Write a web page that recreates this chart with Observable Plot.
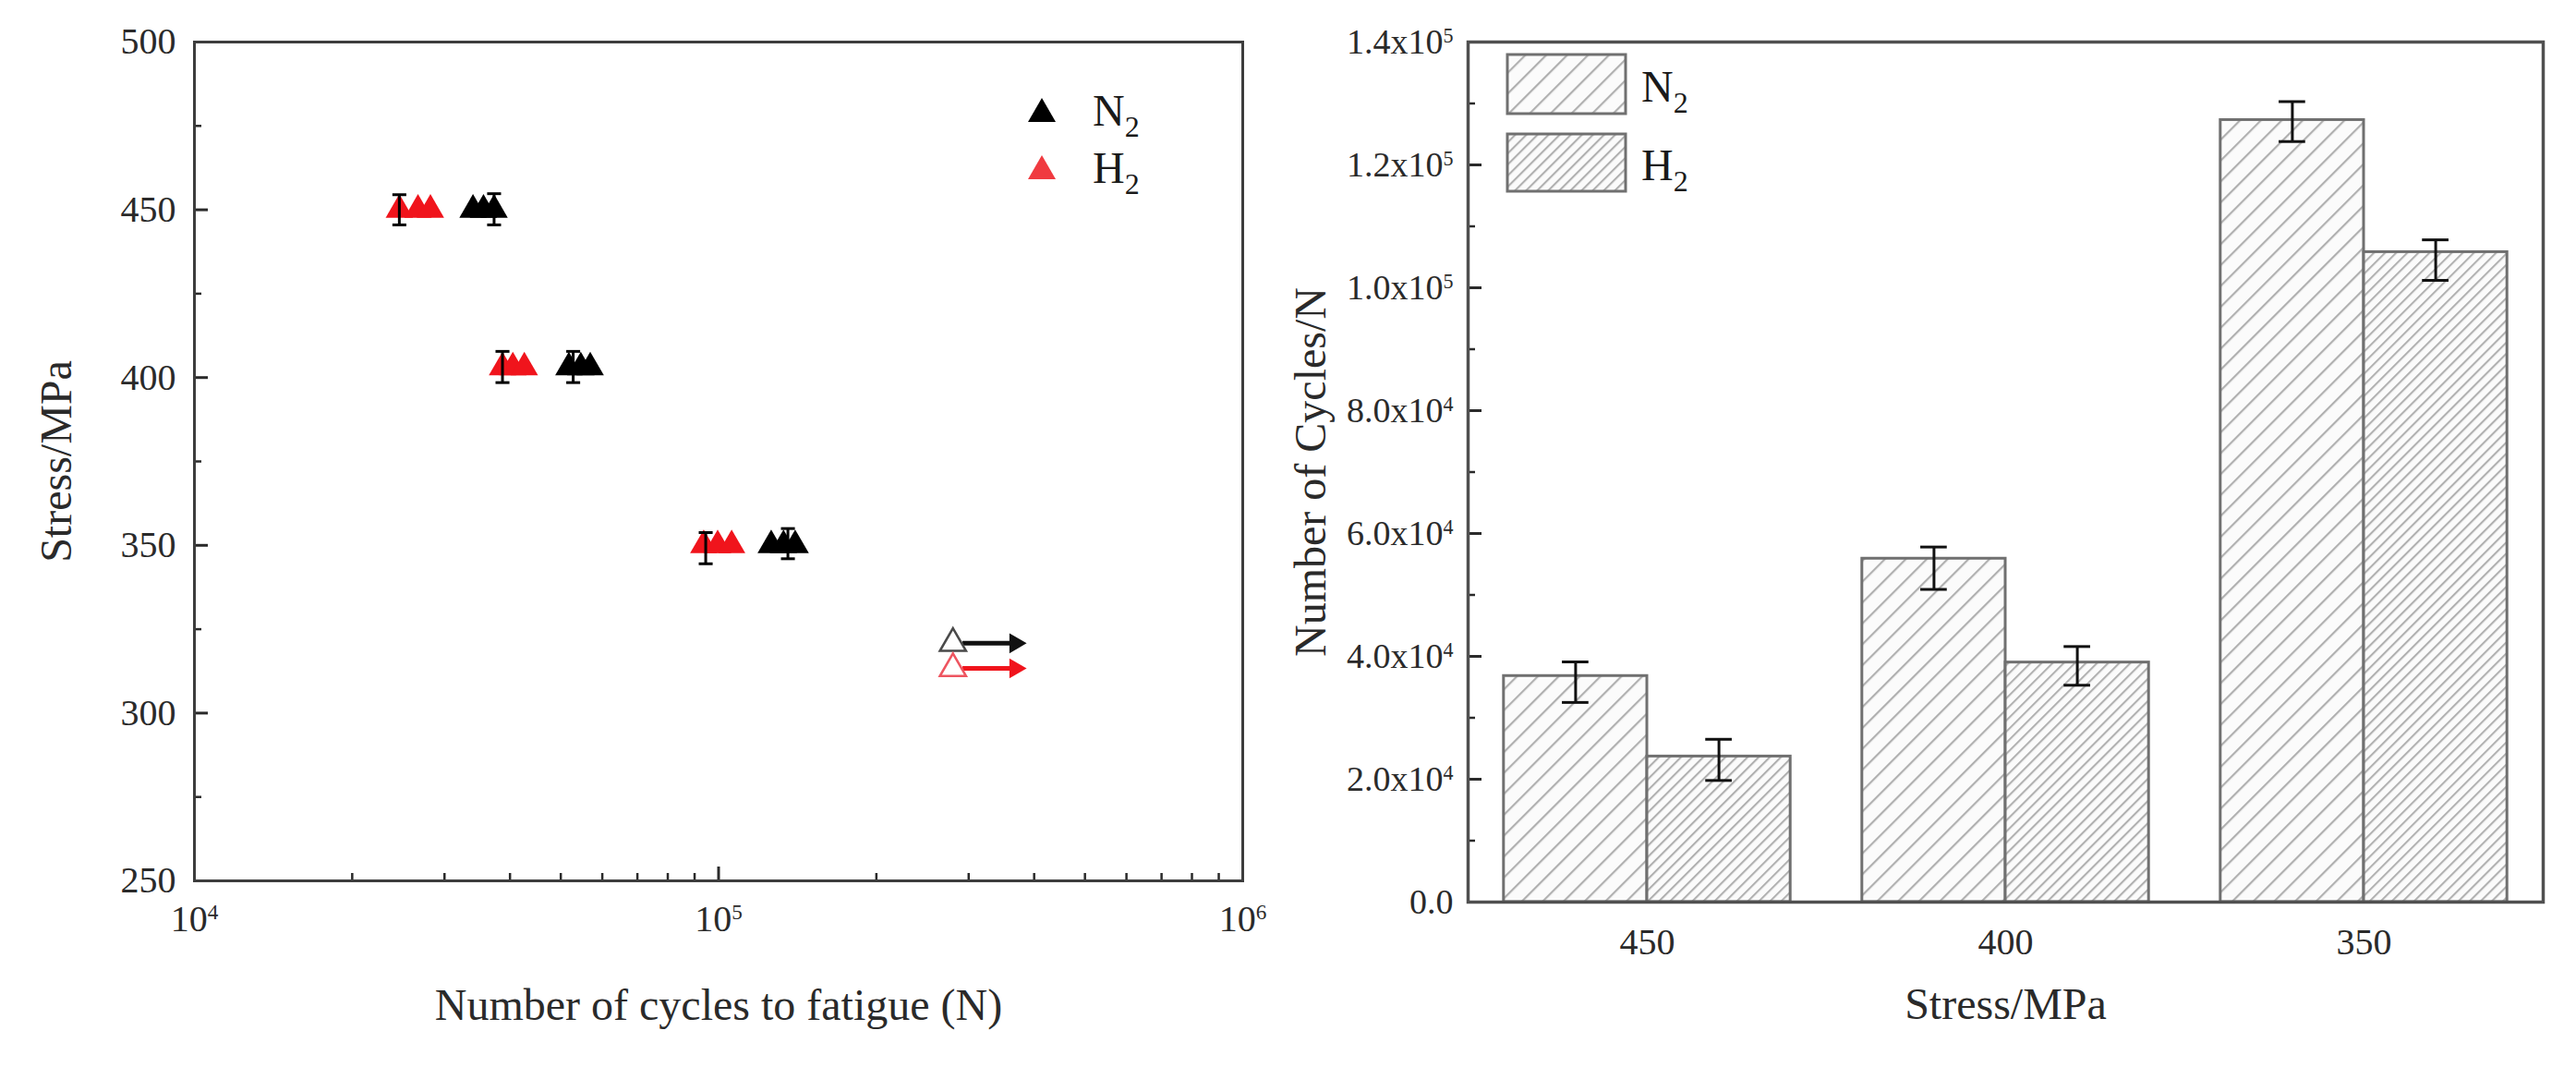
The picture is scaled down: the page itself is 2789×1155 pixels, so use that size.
<!DOCTYPE html>
<html><head><meta charset="utf-8">
<script src="https://cdn.jsdelivr.net/npm/d3@7"></script>
<script src="https://cdn.jsdelivr.net/npm/@observablehq/plot@0.6"></script>
<style>
body{margin:0;background:#fff;}
#wrap{position:relative;width:2789px;height:1155px;font-family:"Liberation Serif","Times New Roman",serif;overflow:hidden;}
.panel{position:absolute;top:0;}
.leg{position:absolute;font-size:48px;color:#1a1a1a;line-height:1;white-space:nowrap;}
.leg sub{font-size:32px;vertical-align:-12px;}
.sw{position:absolute;}
</style></head><body>
<svg width="0" height="0" style="position:absolute">
<defs>
<pattern id="hatchN2" patternUnits="userSpaceOnUse" width="16" height="16" patternTransform="rotate(45)">
<rect width="16" height="16" fill="#fbfbfb"/><line x1="1" y1="0" x2="1" y2="16" stroke="#b0b0b0" stroke-width="2.4"/></pattern>
<pattern id="hatchH2" patternUnits="userSpaceOnUse" width="8.5" height="8.5" patternTransform="rotate(45)">
<rect width="8.5" height="8.5" fill="#fbfbfb"/><line x1="1" y1="0" x2="1" y2="8.5" stroke="#b0b0b0" stroke-width="2.2"/></pattern>
</defs></svg>
<div id="wrap"></div>
<script>
// ---------- Left panel: S-N data ----------
const snStressLevels = [450, 403, 350];
const n2Cycles = [34000, 35600, 37300, 51800, 54600, 56900, 126000, 133000, 140000];
const n2Stress = [450, 450, 450, 403, 403, 403, 350, 350, 350];
const h2Cycles = [24600, 26700, 28200, 38700, 40500, 42600, 93700, 99600, 105900];
const h2Stress = [450, 450, 450, 403, 403, 403, 350, 350, 350];
const n2ErrCycles = [37300, 52800, 135600];
const n2ErrLow = [445.5, 398.5, 346];
const n2ErrHigh = [454.8, 407.8, 355];
const h2ErrCycles = [24600, 38700, 94500];
const h2ErrLow = [445.5, 398.5, 344.5];
const h2ErrHigh = [454.5, 407.8, 353.8];
const runoutGas = ["N2", "H2"];
const runoutStress = [320.8, 313.3];
const runoutStart = [280000, 280000];
const runoutArrowFrom = [292000, 292000];
const runoutArrowTo = [368000, 368000];
const xMajorTicks = [1e4, 1e5, 1e6];
const xMinorTicks = [2e4,3e4,4e4,5e4,6e4,7e4,8e4,9e4,2e5,3e5,4e5,5e5,6e5,7e5,8e5,9e5];
const yMajorTicksL = [250, 300, 350, 400, 450, 500];
const yMinorTicksL = [275, 325, 375, 425, 475];

// ---------- Right panel: bar data ----------
const stressCategories = ["450", "400", "350"];
const n2Mean = [36800, 55900, 127300];
const n2Low = [32500, 50900, 123800];
const n2High = [39100, 57800, 130300];
const h2Mean = [23700, 39000, 105800];
const h2Low = [19800, 35300, 101200];
const h2High = [26500, 41600, 107800];
const yMajorTicksR = [0, 20000, 40000, 60000, 80000, 100000, 120000, 140000];
const yMinorTicksR = [10000, 30000, 50000, 70000, 90000, 110000, 130000];

const RED = "#f0141c";
const FONT = "Liberation Serif, Times New Roman, serif";

function supers(svg) {
  d3.select(svg).selectAll("text").each(function() {
    if (this.querySelector("tspan")) return;
    const s = this.textContent;
    const m = s.match(/^(.*)\^(\d+)$/);
    if (m) {
      this.textContent = m[1];
      d3.select(this).append("tspan").attr("baseline-shift", "super").attr("font-size", "58%").text(m[2]);
    }
  });
}

const capSymbol = {draw(ctx, size) { const w = Math.sqrt(size) / 2; ctx.moveTo(-w, 0); ctx.lineTo(w, 0); }};

const n2Pts = n2Cycles.map((c, i) => ({c, s: n2Stress[i]}));
const h2Pts = h2Cycles.map((c, i) => ({c, s: h2Stress[i]}));
const n2Err = n2ErrCycles.map((c, i) => ({c, lo: n2ErrLow[i], hi: n2ErrHigh[i]}));
const h2Err = h2ErrCycles.map((c, i) => ({c, lo: h2ErrLow[i], hi: h2ErrHigh[i]}));
const runouts = runoutGas.map((g, i) => ({g, s: runoutStress[i], c0: runoutStart[i], c1: runoutArrowFrom[i], c2: runoutArrowTo[i]}));
const gasColor = g => g === "N2" ? "#111" : RED;
const openColor = g => g === "N2" ? "#4a4a4a" : "#ee5560";

const left = Plot.plot({
  width: 1400, height: 1155,
  marginLeft: 210, marginRight: 55, marginTop: 45, marginBottom: 202,
  style: {fontFamily: FONT, fontSize: "40px", color: "#2a2a2a", background: "transparent", overflow: "visible"},
  x: {type: "log", domain: [1e4, 1e6]},
  y: {domain: [250, 500]},
  marks: [
    Plot.axisX({ticks: xMajorTicks, tickSize: -15, strokeWidth: 3, tickFormat: () => "", label: null}),
    Plot.axisX({ticks: xMinorTicks, tickSize: -8, strokeWidth: 2.5, tickFormat: () => "", label: null}),
    Plot.axisX({ticks: xMajorTicks, tickSize: 0, tickPadding: 26, fontSize: 40, tickFormat: d => "10^" + Math.round(Math.log10(d)), label: null}),
    Plot.axisX({ticks: [], label: "Number of cycles to fatigue (N)", labelAnchor: "center", labelOffset: 150, labelArrow: "none", fontSize: 48}),
    Plot.axisY({ticks: yMajorTicksL, tickSize: -15, strokeWidth: 3, tickFormat: () => "", label: null}),
    Plot.axisY({ticks: yMinorTicksL, tickSize: -8, strokeWidth: 2.5, tickFormat: () => "", label: null}),
    Plot.axisY({ticks: yMajorTicksL, tickSize: 0, tickPadding: 20, fontSize: 40, tickFormat: d => String(d), label: null}),
    Plot.axisY({ticks: [], label: "Stress/MPa", labelAnchor: "center", labelOffset: 168, labelArrow: "none", fontSize: 48}),
    Plot.frame({stroke: "#3d3d3d", strokeWidth: 3}),
    Plot.dot(h2Pts, {x: "c", y: "s", symbol: "triangle", r: 11, fill: RED, stroke: "none"}),
    Plot.dot(n2Pts, {x: "c", y: "s", symbol: "triangle", r: 11, fill: "#000", stroke: "none"}),
    Plot.ruleX(h2Err, {x: "c", y1: "lo", y2: "hi", stroke: "#000", strokeWidth: 3}),
    Plot.ruleX(n2Err, {x: "c", y1: "lo", y2: "hi", stroke: "#000", strokeWidth: 3}),
    Plot.dot(h2Err.concat(n2Err), {x: "c", y: "lo", symbol: capSymbol, r: 8.5, stroke: "#000", strokeWidth: 3, fill: "none"}),
    Plot.dot(h2Err.concat(n2Err), {x: "c", y: "hi", symbol: capSymbol, r: 8.5, stroke: "#000", strokeWidth: 3, fill: "none"}),
    Plot.link(runouts, {x1: "c1", x2: "c2", y1: "s", y2: "s", stroke: d => gasColor(d.g), strokeWidth: 5}),
    Plot.dot(runouts, {x: "c2", y: "s", symbol: "triangle", rotate: 90, r: 8, fill: d => gasColor(d.g), stroke: "none"}),
    Plot.dot(runouts, {x: "c0", y: "s", symbol: "triangle", r: 10.5, fill: "white", stroke: d => openColor(d.g), strokeWidth: 2.5})
  ]
});
supers(left);
left.classList.add("panel");
left.style.left = "0px";

const bars = [];
stressCategories.forEach((s, i) => {
  bars.push({idx: i, k: 0, gas: "N2", v: n2Mean[i], lo: n2Low[i], hi: n2High[i]});
  bars.push({idx: i, k: 1, gas: "H2", v: h2Mean[i], lo: h2Low[i], hi: h2High[i]});
});
const bx1 = d => d.idx + 0.1 + 0.4 * d.k;
const bx2 = d => d.idx + 0.5 + 0.4 * d.k;
const bc = d => d.idx + 0.3 + 0.4 * d.k;

const right = Plot.plot({
  width: 1389, height: 1155,
  marginLeft: 189, marginRight: 36, marginTop: 45, marginBottom: 179,
  style: {fontFamily: FONT, fontSize: "38px", color: "#2a2a2a", background: "transparent", overflow: "visible"},
  x: {domain: [0, 3]},
  y: {domain: [0, 140000]},
  marks: [
    Plot.rectY(bars.filter(d => d.gas === "N2"), {x1: bx1, x2: bx2, y: "v", fill: "url(#hatchN2)", stroke: "#707070", strokeWidth: 3}),
    Plot.rectY(bars.filter(d => d.gas === "H2"), {x1: bx1, x2: bx2, y: "v", fill: "url(#hatchH2)", stroke: "#707070", strokeWidth: 3}),
    Plot.ruleX(bars, {x: bc, y1: "lo", y2: "hi", stroke: "#111", strokeWidth: 3}),
    Plot.ruleY(bars, {y: "lo", x1: d => bc(d) - 0.037, x2: d => bc(d) + 0.037, stroke: "#111", strokeWidth: 3}),
    Plot.ruleY(bars, {y: "hi", x1: d => bc(d) - 0.037, x2: d => bc(d) + 0.037, stroke: "#111", strokeWidth: 3}),
    Plot.axisY({ticks: yMajorTicksR, tickSize: -15, strokeWidth: 3, tickFormat: () => "", label: null}),
    Plot.axisY({ticks: yMinorTicksR, tickSize: -8, strokeWidth: 2.5, tickFormat: () => "", label: null}),
    Plot.axisY({ticks: yMajorTicksR, tickSize: 0, tickPadding: 16, fontSize: 38,
      tickFormat: d => { if (d === 0) return "0.0"; const e = Math.floor(Math.log10(d)); return (d / 10 ** e).toFixed(1) + "x10^" + e; }, label: null}),
    Plot.axisY({ticks: [], label: "Number of Cycles/N", labelAnchor: "center", labelOffset: 189, labelArrow: "none", fontSize: 48}),
    Plot.axisX({ticks: [0.5, 1.5, 2.5], tickSize: 0, tickPadding: 28, fontSize: 40, tickFormat: d => stressCategories[Math.floor(d)], label: null}),
    Plot.axisX({ticks: [], label: "Stress/MPa", labelAnchor: "center", labelOffset: 126, labelArrow: "none", fontSize: 48}),
    Plot.frame({stroke: "#505050", strokeWidth: 3.5})
  ]
});
supers(right);
right.classList.add("panel");
right.style.left = "1400px";

const wrap = document.getElementById("wrap");
wrap.appendChild(left);
wrap.appendChild(right);

// Legends
const legHTML = `
<svg class="sw" style="left:1112px;top:104px" width="32" height="30"><polygon points="16,2 31,28 1,28" fill="#000"/></svg>
<div class="leg" style="left:1183px;top:96px">N<sub>2</sub></div>
<svg class="sw" style="left:1112px;top:166px" width="32" height="30"><polygon points="16,2 31,28 1,28" fill="#f03a40"/></svg>
<div class="leg" style="left:1183px;top:158px">H<sub>2</sub></div>
<svg class="sw" style="left:1630px;top:57px" width="134" height="70"><rect x="2" y="2" width="128" height="64" fill="url(#hatchN2)" stroke="#707070" stroke-width="3"/></svg>
<div class="leg" style="left:1777px;top:70px">N<sub>2</sub></div>
<svg class="sw" style="left:1630px;top:143px" width="134" height="70"><rect x="2" y="2" width="128" height="62" fill="url(#hatchH2)" stroke="#707070" stroke-width="3"/></svg>
<div class="leg" style="left:1777px;top:155px">H<sub>2</sub></div>`;
wrap.insertAdjacentHTML("beforeend", legHTML);
</script>
</body></html>
